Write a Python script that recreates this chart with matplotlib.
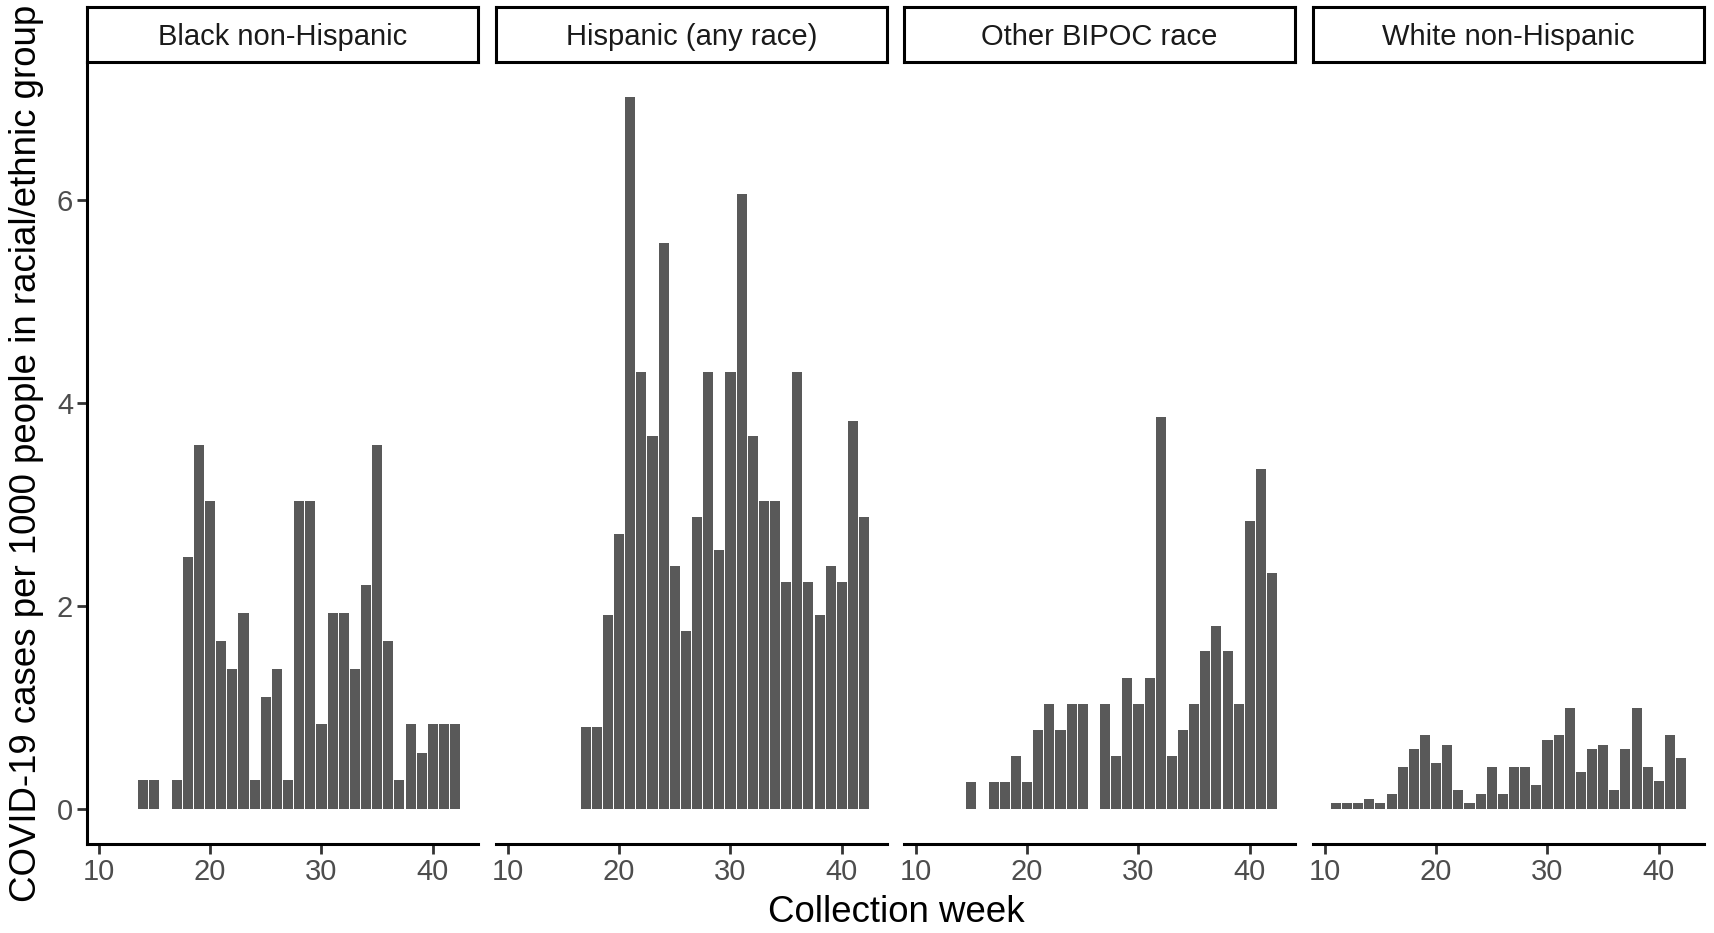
import numpy as np
import matplotlib
matplotlib.use("Agg")
import matplotlib.pyplot as plt

plt.rcParams['font.family'] = ['Liberation Sans', 'DejaVu Sans']

# weekly COVID-19 case rates per 1000 people, by racial/ethnic group
groups = ["Black non-Hispanic", "Hispanic (any race)", "Other BIPOC race", "White non-Hispanic"]

black_weeks = [14, 15] + list(range(17, 43))
black_rate = [0.28, 0.28, 0.28, 2.48, 3.58, 3.03, 1.65, 1.38, 1.93, 0.28,
              1.10, 1.38, 0.28, 3.03, 3.03, 0.83, 1.93, 1.93, 1.38, 2.20,
              3.58, 1.65, 0.28, 0.83, 0.55, 0.83, 0.83, 0.83]

hisp_weeks = list(range(17, 43))
hisp_rate = [0.80, 0.80, 1.91, 2.71, 7.01, 4.30, 3.67, 5.58, 2.39, 1.75,
             2.87, 4.30, 2.55, 4.30, 6.06, 3.67, 3.03, 3.03, 2.23, 4.30,
             2.23, 1.91, 2.39, 2.23, 3.82, 2.87]

other_weeks = [15] + list(range(17, 26)) + list(range(27, 43))
other_rate = [0.26, 0.26, 0.26, 0.52, 0.26, 0.77, 1.03, 0.77, 1.03, 1.03,
              1.03, 0.52, 1.29, 1.03, 1.29, 3.86, 0.52, 0.77, 1.03, 1.55,
              1.80, 1.55, 1.03, 2.83, 3.35, 2.32]

white_weeks = list(range(11, 43))
white_rate = [0.05, 0.05, 0.05, 0.09, 0.05, 0.14, 0.41, 0.59, 0.72, 0.45,
              0.63, 0.18, 0.05, 0.14, 0.41, 0.14, 0.41, 0.41, 0.23, 0.68,
              0.72, 0.99, 0.36, 0.59, 0.63, 0.18, 0.59, 0.99, 0.41, 0.27,
              0.72, 0.50]

series = [(black_weeks, black_rate), (hisp_weeks, hisp_rate),
          (other_weeks, other_rate), (white_weeks, white_rate)]

W, H = 1714, 933
fig = plt.figure(figsize=(W / 100, H / 100), dpi=100)

panel_left = [87, 496, 904, 1313]
panel_w = 391
top_px, bottom_px = 62, 844
strip_top = 7

for i, (name, (wk, rate)) in enumerate(zip(groups, series)):
    x0 = panel_left[i] / W
    ax = fig.add_axes([x0, 1 - bottom_px / H, panel_w / W, (bottom_px - top_px) / H])
    ax.bar(wk, rate, width=0.9, color="#595959", linewidth=0)
    ax.set_xlim(8.95, 44.05)
    ax.set_ylim(-0.35, 7.36)
    ax.set_xticks([10, 20, 30, 40])
    ax.set_yticks([0, 2, 4, 6])
    for s in ["top", "right"]:
        ax.spines[s].set_visible(False)
    ax.spines["bottom"].set_linewidth(2.2)
    ax.spines["left"].set_linewidth(2.2)
    ax.tick_params(axis="both", length=7, width=2, color="#333333",
                   labelsize=21, labelcolor="#4D4D4D", pad=3)
    if i > 0:
        ax.spines["left"].set_visible(False)
        ax.tick_params(axis="y", left=False, labelleft=False)

    # facet strip
    sax = fig.add_axes([x0, 1 - top_px / H, panel_w / W, (top_px - strip_top) / H])
    sax.set_xticks([])
    sax.set_yticks([])
    for s in sax.spines.values():
        s.set_linewidth(2.2)
    sax.text(0.5, 0.45, name, ha="center", va="center", fontsize=21,
             color="#1A1A1A", transform=sax.transAxes)

fig.text(896 / W, 1 - 913 / H, "Collection week", ha="center", va="center", fontsize=26.4)
fig.text(27 / W, 1 - 453 / H, "COVID-19 cases per 1000 people in racial/ethnic group",
         ha="center", va="center", rotation=90, fontsize=26.4)

fig.savefig("out.png", dpi=100)
